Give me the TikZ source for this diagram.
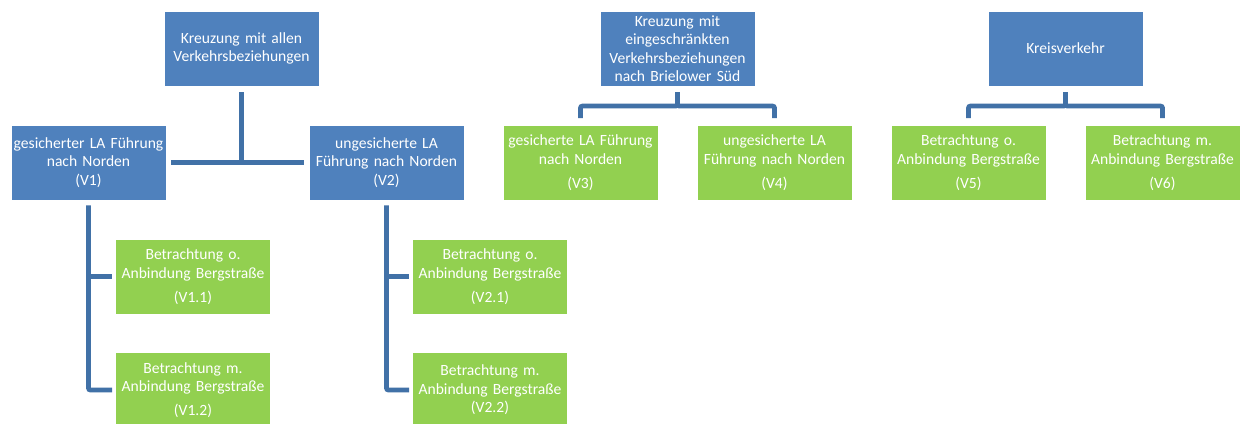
\documentclass[tikz,border=0pt]{standalone}
\usepackage{fontspec}
\setmainfont{Carlito}

\definecolor{boxblue}{RGB}{79,129,189}
\definecolor{boxgreen}{RGB}{146,208,80}
\definecolor{linkblue}{RGB}{65,113,167}

\tikzset{
  topbox/.style={fill=boxblue, draw=white, line width=0.4pt, text=white,
    minimum width=116pt, minimum height=56pt, text width=115pt,
    align=center, inner sep=0.5pt, font=\fontsize{11.7pt}{13.9pt}\selectfont},
  leafbox/.style={topbox, fill=boxgreen},
  branch/.style={linkblue, line width=3.6pt, rounded corners=1.5pt}
}

\begin{document}
\begin{tikzpicture}[x=0.75pt, y=-0.75pt]
    \useasboundingbox[fill=white] (0,0) rectangle (1242,424);

    % Kreuzung mit allen Verkehrsbeziehungen
    \node[topbox] (k1) at (241.5,48.5) {Kreuzung mit allen\\Verkehrsbeziehungen};
    \node[topbox] (v1) at (88.5,162.5) {gesicherter LA Führung\\nach Norden\\(V1)};
    \node[topbox] (v2) at (386.5,162.5) {ungesicherte LA\\Führung nach Norden\\(V2)};
    \node[leafbox] (v11) at (193,276.5) {Betrachtung o.\\Anbindung Bergstraße\\[4pt](V1.1)};
    \node[leafbox] (v12) at (193,390) {Betrachtung m.\\Anbindung Bergstraße\\[4pt](V1.2)};
    \node[leafbox] (v21) at (490,276.5) {Betrachtung o.\\Anbindung Bergstraße\\[4pt](V2.1)};
    \node[leafbox] (v22) at (490,390) {Betrachtung m.\\Anbindung Bergstraße\\(V2.2)};

    \draw[branch, shorten <=4.5pt] (k1.south) -- (k1.south |- v1.east);
    \draw[branch, shorten <=3.75pt, shorten >=3.75pt] (v1.east) -- (v2.west);
    \draw[branch, shorten <=4pt, shorten >=2.5pt] (v1.south) |- (v12.west);
    \draw[branch, shorten >=2.5pt] (v1.south |- v11.west) -- (v11.west);
    \draw[branch, shorten <=4pt, shorten >=2.5pt] (v2.south) |- (v22.west);
    \draw[branch, shorten >=2.5pt] (v2.south |- v21.west) -- (v21.west);

    % eingeschraenkte Verkehrsbeziehungen
    \node[topbox] (k2) at (677.5,48.5) {Kreuzung mit\\eingeschränkten\\Verkehrsbeziehungen\\nach Brielower Süd};
    \node[leafbox] (v3) at (580.5,162.5) {gesicherte LA Führung\\nach Norden\\[4pt](V3)};
    \node[leafbox] (v4) at (774.5,162.5) {ungesicherte LA\\Führung nach Norden\\[4pt](V4)};

    \draw[branch, shorten <=4.5pt, shorten >=5pt] (k2.south) -- ++(0,20) -| (v3.north);
    \draw[branch, shorten <=4.5pt, shorten >=5pt] (k2.south) -- ++(0,20) -| (v4.north);

    % Kreisverkehr
    \node[topbox] (k3) at (1065.5,48.5) {Kreisverkehr};
    \node[leafbox] (v5) at (968.5,162.5) {Betrachtung o.\\Anbindung Bergstraße\\[4pt](V5)};
    \node[leafbox] (v6) at (1162.5,162.5) {Betrachtung m.\\Anbindung Bergstraße\\[4pt](V6)};

    \draw[branch, shorten <=4.5pt, shorten >=5pt] (k3.south) -- ++(0,20) -| (v5.north);
    \draw[branch, shorten <=4.5pt, shorten >=5pt] (k3.south) -- ++(0,20) -| (v6.north);
\end{tikzpicture}
\end{document}
